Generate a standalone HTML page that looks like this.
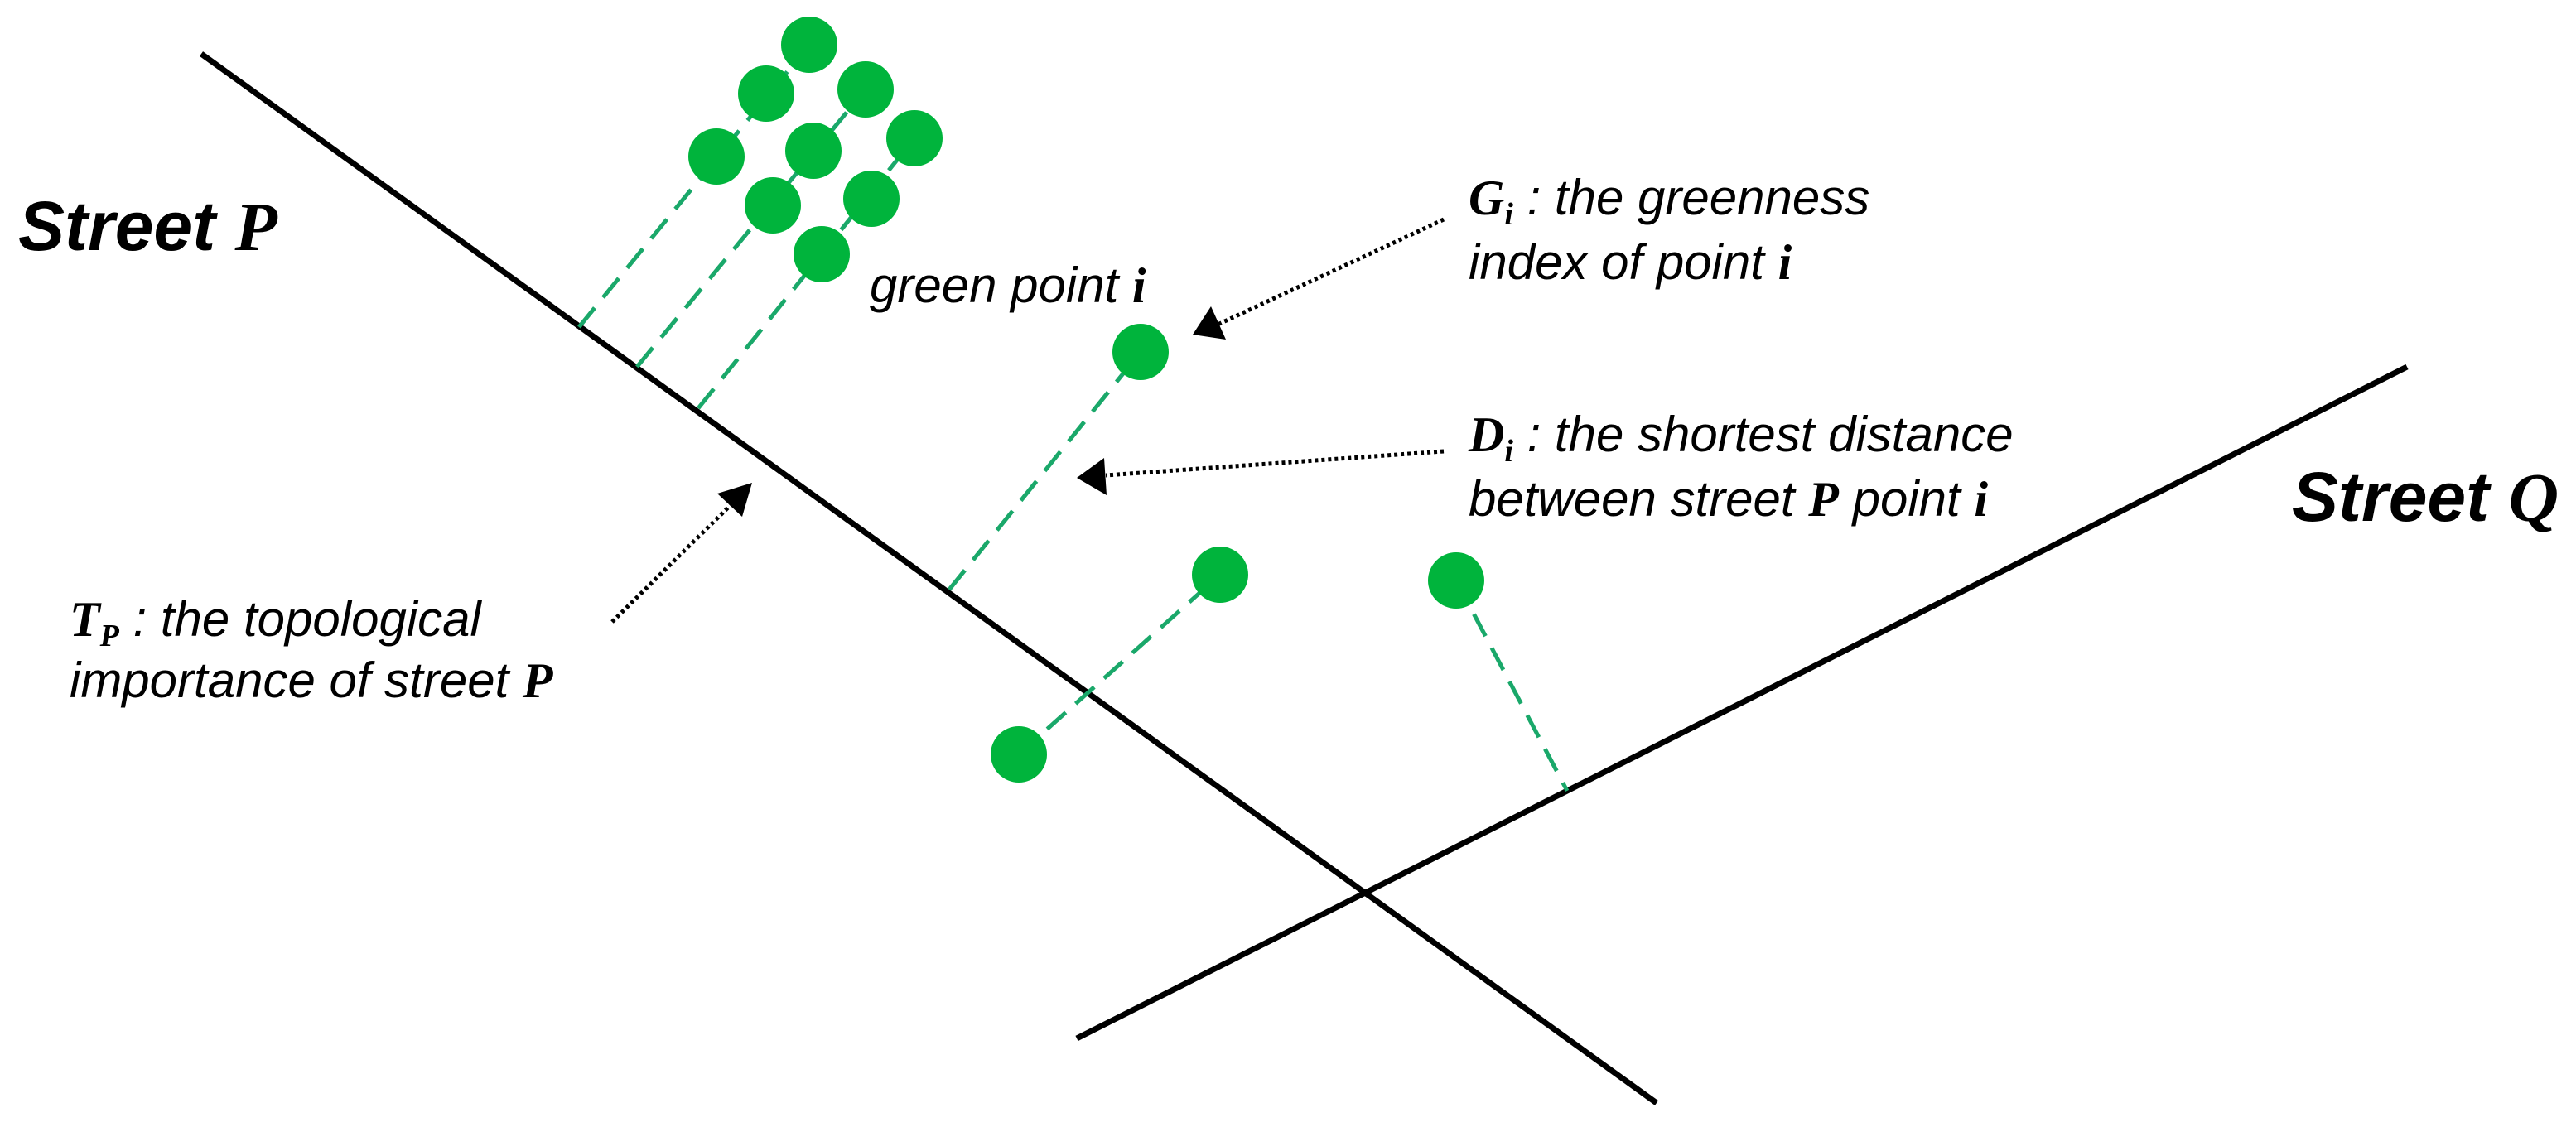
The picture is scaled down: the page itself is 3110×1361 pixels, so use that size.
<!DOCTYPE html>
<html><head><meta charset="utf-8"><style>
html,body{margin:0;padding:0;background:#fff;}
svg{display:block;}
.s{font-family:"Liberation Sans",sans-serif;font-style:italic;font-weight:bold;}
.t{font-family:"Liberation Sans",sans-serif;font-style:italic;}
.m{font-family:"Liberation Serif",serif;font-style:italic;font-weight:bold;}
</style></head><body>
<svg width="3110" height="1361" viewBox="0 0 3110 1361" xmlns="http://www.w3.org/2000/svg">
<!-- streets -->
<line x1="243" y1="65" x2="2000" y2="1332" stroke="#000" stroke-width="7"/>
<line x1="1300" y1="1254" x2="2906" y2="443" stroke="#000" stroke-width="7"/>
<!-- green dashed -->
<g stroke="#1aa86a" stroke-width="5" stroke-dasharray="30,16" fill="none">
<line x1="699" y1="395" x2="977" y2="54"/>
<line x1="769" y1="443" x2="1045" y2="108"/>
<line x1="843" y1="493" x2="1104" y2="167"/>
<line x1="1146" y1="712" x2="1377" y2="425"/>
<line x1="1230" y1="911" x2="1473" y2="694"/>
<line x1="1758" y1="701" x2="1892" y2="955"/>
</g>
<g fill="#00b43c">
<circle cx="977" cy="54" r="34"/>
<circle cx="925" cy="113" r="34"/>
<circle cx="1045" cy="108" r="34"/>
<circle cx="865" cy="189" r="34"/>
<circle cx="982" cy="182" r="34"/>
<circle cx="1104" cy="167" r="34"/>
<circle cx="933" cy="248" r="34"/>
<circle cx="1052" cy="240" r="34"/>
<circle cx="992" cy="307" r="34"/>
<circle cx="1377" cy="425" r="34"/>
<circle cx="1473" cy="694" r="34"/>
<circle cx="1230" cy="911" r="34"/>
<circle cx="1758" cy="701" r="34"/>
</g>
<!-- dotted arrows -->
<g stroke="#000" stroke-width="5" stroke-dasharray="4,4" fill="none">
<line x1="1743" y1="265" x2="1470" y2="392"/>
<line x1="1743" y1="545" x2="1335" y2="574"/>
<line x1="739" y1="751" x2="885" y2="607"/>
</g>
<g fill="#000">
<polygon points="1440,404 1462,370 1480,410"/>
<polygon points="1300,577 1333,553 1336,598"/>
<polygon points="908,583 896,624 866,596"/>
</g>
<!-- labels -->
<text x="22" y="302" class="s" font-size="84">Street <tspan class="m">P</tspan></text>
<text x="2767" y="629" class="s" font-size="84">Street <tspan class="m">Q</tspan></text>
<text x="1050" y="365" class="t" font-size="60">green point <tspan class="m">i</tspan></text>
<text x="84" y="768" class="t" font-size="60"><tspan class="m">T</tspan><tspan class="m" font-size="38" dy="12">P</tspan><tspan dy="-12"> : the topological</tspan></text>
<text x="84" y="842" class="t" font-size="60">importance of street <tspan class="m">P</tspan></text>
<text x="1773" y="259" class="t" font-size="60"><tspan class="m">G</tspan><tspan class="m" font-size="38" dy="12">i</tspan><tspan dy="-12"> : the greenness</tspan></text>
<text x="1773" y="337" class="t" font-size="60">index of point <tspan class="m">i</tspan></text>
<text x="1773" y="545" class="t" font-size="60"><tspan class="m">D</tspan><tspan class="m" font-size="38" dy="12">i</tspan><tspan dy="-12"> : the shortest distance</tspan></text>
<text x="1773" y="623" class="t" font-size="60">between street <tspan class="m">P</tspan> point <tspan class="m">i</tspan></text>
</svg>
</body></html>
